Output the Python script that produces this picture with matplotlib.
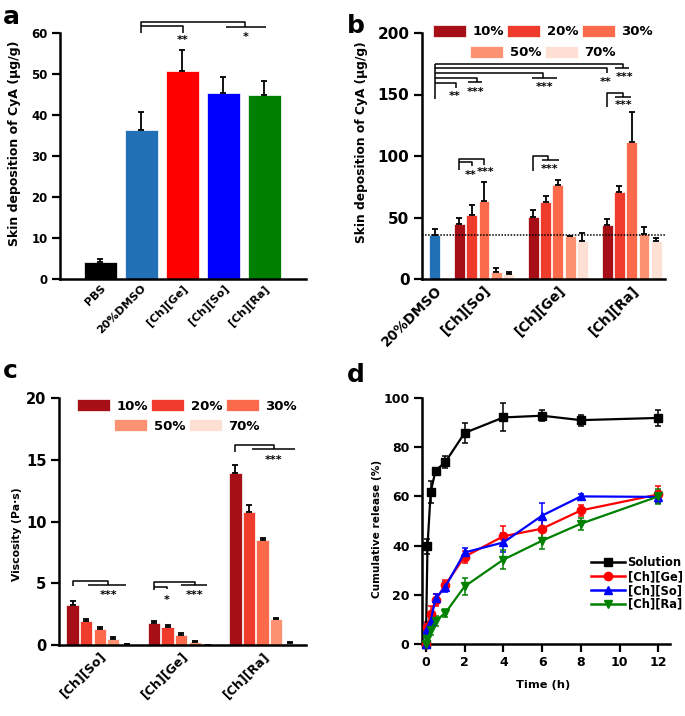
import numpy as np
import matplotlib
matplotlib.use('Agg')
import matplotlib.pyplot as plt
from matplotlib.patches import Patch
from matplotlib.lines import Line2D

plt.rcParams['font.family'] = ['DejaVu Sans']
plt.rcParams['font.weight'] = 'bold'
plt.rcParams['axes.labelweight'] = 'bold'

# ---- panel a: skin deposition, single formulations
a_groups = ['PBS', '20%DMSO', '[Ch][Ge]', '[Ch][So]', '[Ch][Ra]']
a_means = [4.2, 36.3, 50.7, 45.4, 44.9]
a_errs = [0.8, 4.4, 5.2, 3.9, 3.5]
a_colors = ['#000000', '#2270b5', '#ff0000', '#0000ff', '#008000']

# ---- panel b: skin deposition vs IL concentration
conc = ['10%', '20%', '30%', '50%', '70%']
reds = ['#a50f15', '#ef3b2c', '#fb6a4a', '#fc9272', '#fde0d3']
b_groups = ['[Ch][So]', '[Ch][Ge]', '[Ch][Ra]']
b_dmso_mean = 35.5
b_dmso_err = 5.0
b_so_mean = [44.7, 51.8, 63.4, 5.4, 4.3]
b_so_err = [4.6, 8.6, 15.2, 3.3, 1.6]
b_ge_mean = [50.2, 62.3, 76.4, 35.0, 30.9]
b_ge_err = [6.2, 5.2, 4.1, 0.3, 6.2]
b_ra_mean = [44.1, 70.5, 111.6, 36.6, 30.6]
b_ra_err = [4.4, 5.1, 23.9, 5.4, 2.4]

# ---- panel c: viscosity
c_groups = ['[Ch][So]', '[Ch][Ge]', '[Ch][Ra]']
c_so_mean = [3.24, 1.95, 1.32, 0.49, 0.05]
c_so_err = [0.36, 0.13, 0.11, 0.19, 0.0]
c_ge_mean = [1.81, 1.45, 0.78, 0.24, 0.02]
c_ge_err = [0.14, 0.13, 0.17, 0.08, 0.0]
c_ra_mean = [13.9, 10.8, 8.5, 2.08, 0.13]
c_ra_err = [0.65, 0.5, 0.15, 0.12, 0.14]

# ---- panel d: release profile
d_time = [0, 0.083, 0.25, 0.5, 1, 2, 4, 6, 8, 12]
d_sol = [0, 39.7, 61.9, 70.5, 73.9, 85.8, 92.1, 92.8, 91.0, 91.9]
d_sol_err = [0, 3.0, 4.5, 1.2, 2.5, 4.2, 5.7, 2.2, 2.2, 3.2]
d_ge = [0, 7.0, 12.0, 17.8, 24.0, 35.5, 43.8, 46.9, 54.3, 60.8]
d_ge_err = [0, 2.0, 3.5, 2.5, 2.0, 2.5, 4.0, 4.5, 2.2, 3.5]
d_so = [0, 6.0, 9.5, 18.5, 23.2, 37.2, 41.3, 52.2, 60.0, 59.8]
d_so_err = [0, 2.0, 3.0, 2.0, 2.0, 2.0, 4.0, 5.0, 1.0, 2.5]
d_ra = [0, 2.0, 5.7, 9.4, 12.6, 23.4, 34.3, 42.0, 48.9, 60.0]
d_ra_err = [0, 1.0, 2.0, 2.0, 1.5, 3.5, 4.0, 3.5, 2.5, 3.0]
d_labels = ['Solution', '[Ch][Ge]', '[Ch][So]', '[Ch][Ra]']
d_colors = ['#000000', '#ff0000', '#0000ff', '#008000']
d_markers = ['s', 'o', '^', 'v']

W, H = 685, 716
fig = plt.figure(figsize=(W / 100, H / 100), dpi=100)


def px_axes(l, t, r, b):
    return fig.add_axes([l / W, 1 - b / H, (r - l) / W, (b - t) / H])


def style(ax, ysize, xsize):
    for s in ['top', 'right']:
        ax.spines[s].set_visible(False)
    for s in ['left', 'bottom']:
        ax.spines[s].set_linewidth(1.8)
    ax.tick_params(axis='y', length=6, width=1.6, pad=3, labelsize=ysize)
    ax.tick_params(axis='x', length=0, pad=3, labelsize=xsize)


def line(ax, xs, ys):
    ax.plot(xs, ys, color='black', lw=1.1, clip_on=False, solid_capstyle='butt')


def stars(ax, x, y, s, size=8):
    ax.text(x, y, s, ha='center', va='top', fontsize=size, clip_on=False)


def rot_labels(ax, labels):
    ax.set_xticklabels(labels, rotation=45, ha='right', rotation_mode='anchor')


def upper_err(ax, x, mean, err):
    ax.errorbar(x, mean, yerr=[np.zeros(len(err)), err], fmt='none', ecolor='black',
                elinewidth=1.3, capsize=2.5, capthick=1.3)


ax_a = px_axes(60, 33, 306, 279)
ax_b = px_axes(422, 33, 665, 279)
ax_c = px_axes(59, 398, 306, 645)
ax_d = px_axes(422, 398, 670, 644)

# ================= a
xa = np.arange(len(a_groups))
ax_a.bar(xa, a_means, width=0.8, color=a_colors, edgecolor='white', linewidth=0.5)
upper_err(ax_a, xa, a_means, a_errs)
style(ax_a, 8.5, 8)
ax_a.set_xlim(-0.98, 5.02)
ax_a.set_ylim(0, 60)
ax_a.set_yticks(np.arange(0, 61, 10))
ax_a.set_xticks(xa)
rot_labels(ax_a, a_groups)
ax_a.set_ylabel('Skin deposition of CyA (μg/g)', fontsize=9)
ax_a.yaxis.set_label_coords(-0.159, 0.551)
line(ax_a, [1, 1, 3.54, 3.54], [60.0, 62.7, 62.7, 61.5])
line(ax_a, [1, 2.02, 2.02], [61.7, 61.7, 60.1])
line(ax_a, [3.07, 4.05], [61.5, 61.5])
stars(ax_a, 2.02, 59.6, '**')
stars(ax_a, 3.54, 60.3, '*')

# ================= b
b_centers = np.array([4, 10, 16])
b_means = [b_so_mean, b_ge_mean, b_ra_mean]
b_errs = [b_so_err, b_ge_err, b_ra_err]
ax_b.bar([0], [b_dmso_mean], width=0.88, color=a_colors[1], edgecolor='white', linewidth=0.5)
upper_err(ax_b, [0], [b_dmso_mean], [b_dmso_err])
for i, c in enumerate(conc):
    xs = b_centers + (i - 2)
    vals = [m[i] for m in b_means]
    errs = [e[i] for e in b_errs]
    ax_b.bar(xs, vals, width=0.88, color=reds[i], edgecolor='white', linewidth=0.5)
    upper_err(ax_b, xs, vals, errs)
ax_b.axhline(b_dmso_mean, color='black', ls=(0, (1, 1)), lw=1.1)
style(ax_b, 11, 9.8)
ax_b.set_xlim(-1.03, 18.7)
ax_b.set_ylim(0, 200)
ax_b.set_yticks(np.arange(0, 201, 50))
ax_b.set_xticks([0] + list(b_centers))
rot_labels(ax_b, ['20%DMSO'] + b_groups)
ax_b.set_ylabel('Skin deposition of CyA (μg/g)', fontsize=8.8)
ax_b.yaxis.set_label_coords(-0.222, 0.558)
# comparisons against 20%DMSO
line(ax_b, [0, 0], [146, 174.5])
line(ax_b, [0, 15.3, 15.3], [174.5, 174.5, 171.5])
line(ax_b, [14.66, 15.8], [171.5, 171.5])
stars(ax_b, 15.4, 168.5, '***')
line(ax_b, [0, 14.0, 14.0], [171.3, 171.3, 167.2])
stars(ax_b, 13.9, 164.5, '**')
line(ax_b, [0, 8.83, 8.83], [167.7, 167.7, 163.7])
line(ax_b, [7.9, 9.97], [163.7, 163.7])
stars(ax_b, 8.9, 160.4, '***')
line(ax_b, [0, 3.41, 3.41], [163.7, 163.7, 159.9])
line(ax_b, [2.73, 3.82], [159.9, 159.9])
stars(ax_b, 3.28, 156.4, '***')
line(ax_b, [0, 1.7, 1.7], [159.1, 159.1, 155])
stars(ax_b, 1.65, 152.8, '**')
# within-group comparisons
line(ax_b, [2, 2, 4, 4], [88.5, 97.6, 97.6, 92.7])
line(ax_b, [2, 3, 3], [95.1, 95.1, 92.0])
stars(ax_b, 2.95, 88.6, '**')
stars(ax_b, 4.15, 91.3, '***')
line(ax_b, [8, 8, 9.2, 9.2], [88, 100, 100, 96.7])
line(ax_b, [8.75, 10.1], [96.7, 96.7])
stars(ax_b, 9.35, 93.2, '***')
line(ax_b, [14, 14, 15.3, 15.3], [140, 151.5, 151.5, 148.2])
line(ax_b, [14.66, 15.9], [148.2, 148.2])
stars(ax_b, 15.3, 145.5, '***')

# ================= c
c_centers = np.array([3, 9, 15])
c_means = [c_so_mean, c_ge_mean, c_ra_mean]
c_errs = [c_so_err, c_ge_err, c_ra_err]
for i, c in enumerate(conc):
    xs = c_centers + (i - 2)
    vals = [m[i] for m in c_means]
    errs = [e[i] for e in c_errs]
    ax_c.bar(xs, vals, width=0.9, color=reds[i], edgecolor='white', linewidth=0.5)
    upper_err(ax_c, xs, vals, errs)
style(ax_c, 10.5, 9)
ax_c.set_xlim(0, 18.2)
ax_c.set_ylim(0, 20)
ax_c.set_yticks(np.arange(0, 21, 5))
ax_c.set_xticks(c_centers)
rot_labels(ax_c, c_groups)
ax_c.set_ylabel('Viscosity (Pa·s)', fontsize=7.8)
ax_c.yaxis.set_label_coords(-0.150, 0.447)
line(ax_c, [1, 1, 3.62, 3.62], [4.75, 5.17, 5.17, 4.88])
line(ax_c, [2.1, 4.95], [4.88, 4.88])
stars(ax_c, 3.68, 4.45, '***')
line(ax_c, [7, 7, 10.0, 10.0], [4.45, 5.07, 5.07, 4.83])
line(ax_c, [9.0, 10.93], [4.83, 4.83])
line(ax_c, [7, 7.94, 7.94], [4.72, 4.72, 4.5])
stars(ax_c, 7.94, 4.05, '*')
stars(ax_c, 9.97, 4.45, '***')
line(ax_c, [13, 13, 15.83, 15.83], [15.65, 16.19, 16.19, 15.87])
line(ax_c, [14.19, 17.37], [15.87, 15.87])
stars(ax_c, 15.83, 15.38, '***')

# ================= legends for b and c (two centred rows)
handles = [Patch(facecolor=c, edgecolor='white', linewidth=0.5) for c in reds]
leg_kw = dict(frameon=False, fontsize=9.5, handlelength=2.5, handleheight=1.05,
              handletextpad=0.5, columnspacing=0.25, borderpad=0, borderaxespad=0, loc='center')
for ax, xc, y1, y2 in [(ax_b, 0.498, 1.006, 0.921), (ax_c, 0.518, 0.968, 0.887)]:
    leg1 = ax.legend(handles[:3], conc[:3], ncol=3, bbox_to_anchor=(xc, y1), **leg_kw)
    ax.add_artist(leg1)
    ax.legend(handles[3:], conc[3:], ncol=2, bbox_to_anchor=(xc, y2), **leg_kw)

# ================= d
d_series = [(d_sol, d_sol_err), (d_ge, d_ge_err), (d_so, d_so_err), (d_ra, d_ra_err)]
for (ys, es), col, mk, lab in zip(d_series, d_colors, d_markers, d_labels):
    ax_d.errorbar(d_time, ys, yerr=es, color=col, marker=mk, ms=6, lw=1.6,
                  elinewidth=1.1, capsize=2.5, capthick=1.1, clip_on=False, zorder=3)
style(ax_d, 9, 9)
ax_d.tick_params(axis='x', length=6, width=1.6, pad=3, labelsize=9)
ax_d.set_xlim(-0.2, 12.6)
ax_d.set_ylim(0, 100)
ax_d.set_xticks(np.arange(0, 13, 2))
ax_d.set_yticks(np.arange(0, 101, 20))
ax_d.set_ylabel('Cumulative release (%)', fontsize=7.6)
ax_d.yaxis.set_label_coords(-0.161, 0.467)
ax_d.set_xlabel('Time (h)', fontsize=8.2)
ax_d.xaxis.set_label_coords(0.488, -0.146)
d_handles = [Line2D([], [], color=c, marker=m, ms=6, lw=1.8) for c, m in zip(d_colors, d_markers)]
ax_d.legend(d_handles, d_labels, loc='center left', bbox_to_anchor=(0.68, 0.246), frameon=False,
            fontsize=8.3, handlelength=3.0, handletextpad=0.2, labelspacing=0.08,
            borderpad=0, borderaxespad=0)

# ================= panel letters
for txt, x, y in [('a', 3, 23.5), ('b', 347, 33), ('c', 3, 378), ('d', 347, 382)]:
    fig.text(x / W, 1 - y / H, txt, fontsize=18, fontweight='bold', va='baseline', ha='left')

fig.savefig('out.png', dpi=100)
